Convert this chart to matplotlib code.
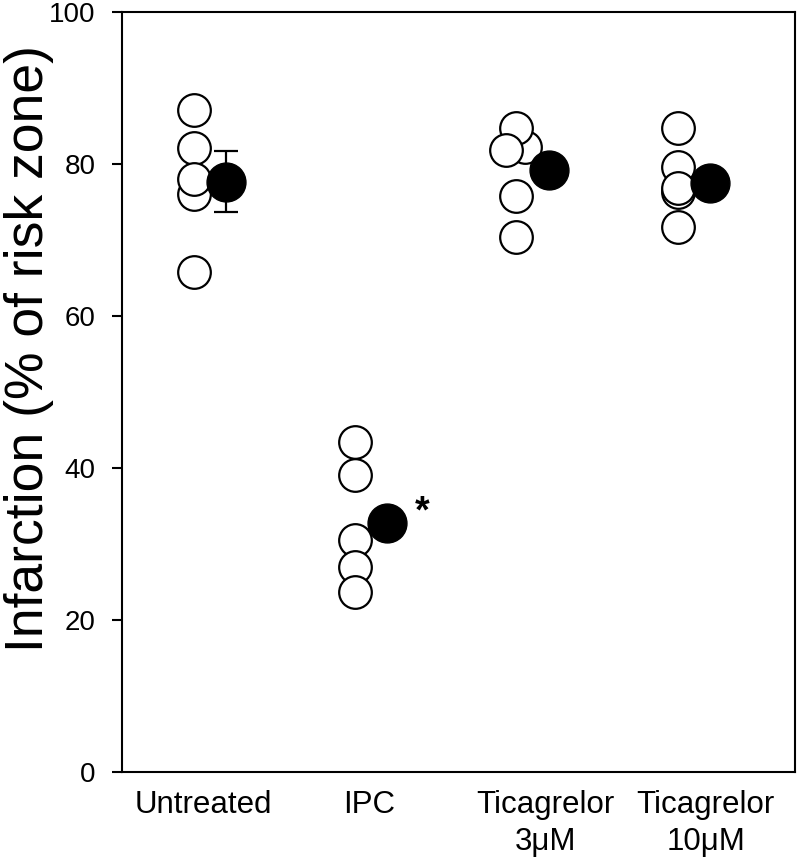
import matplotlib
matplotlib.use("Agg")
import matplotlib.pyplot as plt
import matplotlib.transforms as mtransforms
import numpy as np

plt.rcParams['font.family'] = ['Liberation Sans', 'DejaVu Sans']

# ---- data ----
categories = ["Untreated", "IPC", "Ticagrelor\n3\u03bcM", "Ticagrelor\n10\u03bcM"]
# individual values (drawing order preserved)
untreated_vals = [87.1, 82.1, 76.0, 78.0, 65.8]
ipc_vals = [43.4, 39.1, 30.5, 27.0, 23.7]
tica3_vals = [82.2, 84.7, 81.8, 75.7, 70.3]
tica10_vals = [84.7, 79.5, 76.2, 76.8, 71.7]
# small horizontal jitter of individual points (category units)
untreated_jit = [0.0, 0.0, 0.0, 0.0, 0.0]
ipc_jit = [0.0, 0.0, 0.0, 0.0, 0.0]
tica3_jit = [0.05, 0.0, -0.062, 0.0, 0.0]
tica10_jit = [0.0, 0.0, 0.0, 0.0, 0.0]
# group means and SEM (only the Untreated SEM is visible outside the marker)
means = [77.6, 32.8, 79.1, 77.5]
sem = [4.0, 0.0, 0.0, 0.0]
yticks = [0, 20, 40, 60, 80, 100]

groups = [untreated_vals, ipc_vals, tica3_vals, tica10_vals]
jitters = [untreated_jit, ipc_jit, tica3_jit, tica10_jit]

fig = plt.figure(figsize=(8, 8.58), dpi=100)
ax = fig.add_axes([122/800, (858-772)/858, (795-122)/800, (772-11.5)/858])

open_off = -0.1
mean_off = 0.1

z = 3
for i, (vals, jit) in enumerate(zip(groups, jitters)):
    for v, j in zip(vals, jit):
        ax.plot([i + open_off + j], [v], marker='o', ms=23.5, mfc='white',
                mec='black', mew=1.6, ls='none', zorder=z)
        z += 0.01

xs_mean = np.arange(len(means)) + mean_off
for x, m, e in zip(xs_mean, means, sem):
    if e > 0:
        ax.errorbar([x], [m], yerr=[e], fmt='none', ecolor='black',
                    elinewidth=1.6, capsize=8.5, capthick=1.6, zorder=4)
ax.plot(xs_mean, means, marker='o', ms=28, mfc='black', mec='black',
        ls='none', zorder=5)

# significance asterisk next to IPC mean
ax.annotate('*', xy=(xs_mean[1], means[1]), xytext=(25, 0),
            textcoords='offset points', ha='center', va='baseline',
            fontsize=27, fontweight='bold', color='black')

ax.set_xlim(-0.5456, 3.627)
ax.set_ylim(0, 100)
ax.set_yticks(yticks)
ax.set_yticklabels([str(t) for t in yticks])
ax.set_xticks(np.arange(len(categories)))
ax.set_xticklabels(categories, linespacing=1.3)
ax.tick_params(axis='x', length=0, pad=13, labelsize=22.5)
ax.tick_params(axis='y', length=7.2, width=1.5, pad=12, direction='out',
               labelsize=20)
for sp in ax.spines.values():
    sp.set_linewidth(1.5)

# small horizontal nudges of the category labels (pixels), as in the reference
label_shift_px = [-7, -2, 13, 12]
for lab, dx in zip(ax.get_xticklabels(), label_shift_px):
    lab.set_transform(lab.get_transform() +
                      mtransforms.ScaledTranslation(dx / 100, 0, fig.dpi_scale_trans))

ax.set_ylabel("Infarction (% of risk zone)", fontsize=38.5)
ax.yaxis.label.set_va('baseline')
ax.yaxis.set_label_coords((43-122)/673, (772-348)/760.5)

fig.savefig("out.png", dpi=100)
